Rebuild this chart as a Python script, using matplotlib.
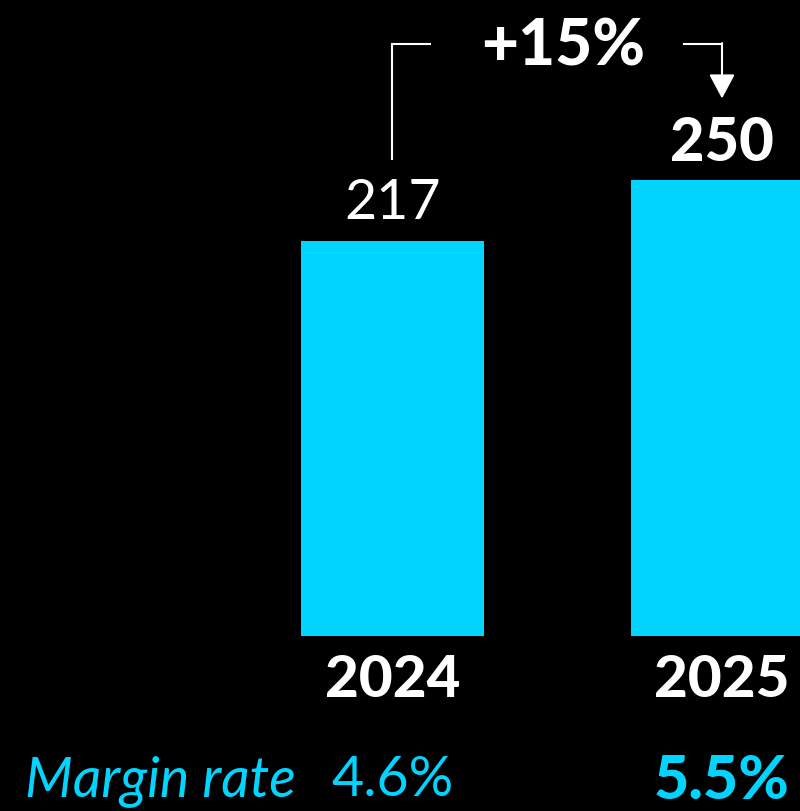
import matplotlib.pyplot as plt

years = ['2024', '2025']
values = [217, 250]
margins = ['4.6%', '5.5%']
change_label = '+15%'

cyan = '#00D4FF'
fnt = 'Lato'

fig = plt.figure(figsize=(8, 8.12), dpi=100, facecolor='black')
ax = fig.add_axes([0, 0, 1, 1])
ax.set_facecolor('black')

x = [0, 1]
ax.bar(x, values, width=0.555, color=cyan)

ax.set_xlim(-1.191, 1.2367)
ax.set_ylim(-96.05, 349.6)
ax.axis('off')

# value labels
ax.text(x[0], values[0] + 21, str(values[0]), ha='center', va='center',
        color='white', fontsize=40, family=fnt, weight='normal')
ax.text(x[1], values[1] + 21, str(values[1]), ha='center', va='center',
        color='white', fontsize=43, family=fnt, weight='black')

# year labels
for xi, yr in zip(x, years):
    ax.text(xi, -24, yr, ha='center', va='center', color='white',
            fontsize=42, family=fnt, weight='black')

# bracket with arrow
top = 325
ax.plot([x[0], x[0], 0.114], [values[0] + 45, top, top], color='white', lw=1.5,
        solid_joinstyle='miter')
ax.plot([0.885, x[1]], [top, top], color='white', lw=1.5)
ax.annotate('', xy=(x[1], values[1] + 45), xytext=(x[1], top + 0.4),
            arrowprops=dict(arrowstyle='-|>,head_length=0.75,head_width=0.4',
                            color='white', lw=1.5, mutation_scale=20,
                            shrinkA=0, shrinkB=0))
ax.text(0.517, top - 1, change_label, ha='center', va='center', color='white',
        fontsize=46, family=fnt, weight='black')

# margin row
ax.text(-1.115, -79, 'Margin rate', ha='left', va='center', color=cyan,
        fontsize=40, family=fnt, weight='normal', style='italic')
ax.text(x[0], -79, margins[0], ha='center', va='center', color=cyan,
        fontsize=40, family=fnt, weight='normal')
ax.text(x[1], -79, margins[1], ha='center', va='center', color=cyan,
        fontsize=44, family=fnt, weight='black')

fig.savefig('out.png', dpi=100, facecolor='black')
